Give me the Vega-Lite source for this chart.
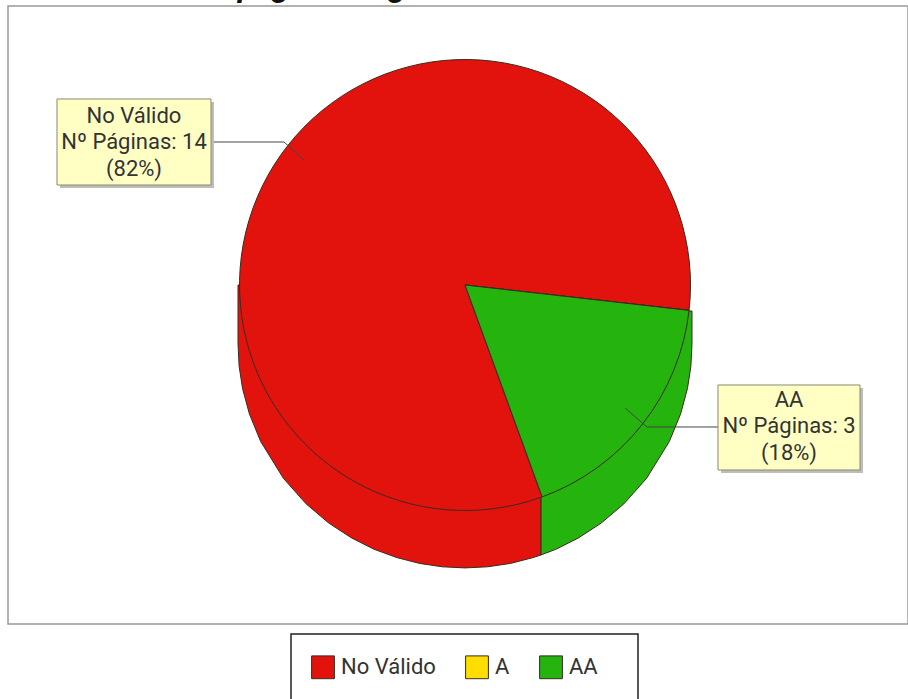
{
"$schema":"https://vega.github.io/schema/vega-lite/v6.json",
"width":900,"height":618,
"autosize":{"type":"none"},
"padding":{"left":8,"top":6,"right":0,"bottom":75},
"background":"white",
"view":{"stroke":"#999999","strokeWidth":1.5,"fill":"white"},
"config":{"font":"Roboto"},
"datasets":{
"paginas":[
{"categoria":"No Válido","orden":1,"paginas":14,"porcentaje":82},
{"categoria":"A","orden":2,"paginas":0,"porcentaje":0},
{"categoria":"AA","orden":3,"paginas":3,"porcentaje":18}],
"lateral":[
{"categoria":"No Válido","u":-1,"arriba":0,"abajo":-0.263},
{"categoria":"No Válido","u":-0.995,"arriba":0,"abajo":-0.363},
{"categoria":"No Válido","u":-0.98,"arriba":0,"abajo":-0.462},
{"categoria":"No Válido","u":-0.95,"arriba":0,"abajo":-0.575},
{"categoria":"No Válido","u":-0.9,"arriba":0,"abajo":-0.699},
{"categoria":"No Válido","u":-0.8,"arriba":0,"abajo":-0.863},
{"categoria":"No Válido","u":-0.7,"arriba":0,"abajo":-0.977},
{"categoria":"No Válido","u":-0.6,"arriba":0,"abajo":-1.063},
{"categoria":"No Válido","u":-0.5,"arriba":0,"abajo":-1.129},
{"categoria":"No Válido","u":-0.4,"arriba":0,"abajo":-1.18},
{"categoria":"No Válido","u":-0.3,"arriba":0,"abajo":-1.217},
{"categoria":"No Válido","u":-0.2,"arriba":0,"abajo":-1.243},
{"categoria":"No Válido","u":-0.1,"arriba":0,"abajo":-1.258},
{"categoria":"No Válido","u":0,"arriba":0,"abajo":-1.263},
{"categoria":"No Válido","u":0.1,"arriba":0,"abajo":-1.258},
{"categoria":"No Válido","u":0.2,"arriba":0,"abajo":-1.243},
{"categoria":"No Válido","u":0.3,"arriba":0,"abajo":-1.217},
{"categoria":"No Válido","u":0.335,"arriba":0,"abajo":-1.205},
{"categoria":"AA","u":0.335,"arriba":-0.116,"abajo":-1.205},
{"categoria":"AA","u":0.4,"arriba":-0.116,"abajo":-1.18},
{"categoria":"AA","u":0.5,"arriba":-0.116,"abajo":-1.129},
{"categoria":"AA","u":0.6,"arriba":-0.116,"abajo":-1.063},
{"categoria":"AA","u":0.7,"arriba":-0.116,"abajo":-0.977},
{"categoria":"AA","u":0.8,"arriba":-0.116,"abajo":-0.863},
{"categoria":"AA","u":0.9,"arriba":-0.116,"abajo":-0.699},
{"categoria":"AA","u":0.95,"arriba":-0.116,"abajo":-0.575},
{"categoria":"AA","u":0.98,"arriba":-0.116,"abajo":-0.462},
{"categoria":"AA","u":0.995,"arriba":-0.116,"abajo":-0.363},
{"categoria":"AA","u":1,"arriba":-0.116,"abajo":-0.263}],
"guias":[
{"categoria":"No Válido","paso":1,"u":-1.1189,"v":0.6384},
{"categoria":"No Válido","paso":2,"u":-0.7974,"v":0.6384},
{"categoria":"No Válido","paso":3,"u":-0.7093,"v":0.558},
{"categoria":"AA","paso":1,"u":1.1145,"v":-0.6339},
{"categoria":"AA","paso":2,"u":0.8018,"v":-0.6339},
{"categoria":"AA","paso":3,"u":0.7048,"v":-0.5491}],
"cajas":[
{"categoria":"No Válido","u1":-1.7974,"u2":-1.1189,"v1":0.8304,"v2":0.4464},
{"categoria":"AA","u1":1.1145,"u2":1.7401,"v1":-0.4464,"v2":-0.8259}],
"sombras":[
{"categoria":"No Válido","u1":-1.7842,"u2":-1.1057,"v1":0.817,"v2":0.433},
{"categoria":"AA","u1":1.1277,"u2":1.7533,"v1":-0.4598,"v2":-0.8393}],
"marco":[{"u1":-0.7665,"u2":0.7621,"v1":-1.558,"v2":-1.9}],
"titulo":[{"texto":"páginas según","u":-1.0,"v":1.2857}],
"textos":[
{"texto":"No Válido","u":-1.4581,"v":0.7545},
{"texto":"Nº Páginas: 14","u":-1.4581,"v":0.6384},
{"texto":"(82%)","u":-1.4581,"v":0.5179},
{"texto":"AA","u":1.4273,"v":-0.5134},
{"texto":"Nº Páginas: 3","u":1.4273,"v":-0.6295},
{"texto":"(18%)","u":1.4273,"v":-0.75}]
},
"layer":[
{"data":{"name":"lateral"},
 "mark":{"type":"area","stroke":"#3a2a20","strokeWidth":1,"interpolate":"linear"},
 "encoding":{
  "x":{"field":"u","type":"quantitative","scale":{"domain":[-2.0132,1.9515],"nice":false,"zero":false},"axis":null},
  "y":{"field":"arriba","type":"quantitative","scale":{"domain":[-1.5134,1.2455],"nice":false,"zero":false},"axis":null},
  "y2":{"field":"abajo"},
  "color":{"field":"categoria","type":"nominal","scale":{"domain":["No Válido","A","AA"],"range":["#E2130D","#FFDD00","#25B40E"]},
   "legend":{"title":null,"orient":"none","legendX":283,"legendY":629,"direction":"horizontal","columns":3,"symbolType":"square","symbolSize":520,"symbolStrokeColor":"#777777","symbolStrokeWidth":1,"symbolOpacity":1,"labelFont":"Roboto","labelFontSize":22,"labelColor":"#333333","labelOffset":6,"columnPadding":27,"padding":20}},
  "detail":{"field":"categoria"}
 }},
{"data":{"name":"paginas"},
 "mark":{"type":"arc","radius":225.5,"stroke":"#3a2a20","strokeWidth":1},
 "encoding":{
  "x":{"datum":0,"type":"quantitative"},
  "y":{"datum":0,"type":"quantitative"},
  "theta":{"field":"paginas","type":"quantitative","stack":true,"scale":{"range":[2.7925,9.0757]}},
  "order":{"field":"orden","type":"ordinal"},
  "color":{"field":"categoria","type":"nominal"}
 }},
{"data":{"name":"guias"},
 "mark":{"type":"line","color":"#444444","strokeWidth":1},
 "encoding":{
  "x":{"field":"u","type":"quantitative"},
  "y":{"field":"v","type":"quantitative"},
  "detail":{"field":"categoria"},
  "order":{"field":"paso","type":"ordinal"}
 }},
{"data":{"name":"sombras"},
 "mark":{"type":"rect","color":"#bdbdbd"},
 "encoding":{
  "x":{"field":"u1","type":"quantitative"},"x2":{"field":"u2"},
  "y":{"field":"v1","type":"quantitative"},"y2":{"field":"v2"}
 }},
{"data":{"name":"cajas"},
 "mark":{"type":"rect","fill":"#FFFFC4","stroke":"#8a8a70","strokeWidth":1},
 "encoding":{
  "x":{"field":"u1","type":"quantitative"},"x2":{"field":"u2"},
  "y":{"field":"v1","type":"quantitative"},"y2":{"field":"v2"}
 }},
{"data":{"name":"marco"},
 "mark":{"type":"rect","fill":null,"stroke":"#222222","strokeWidth":1.5},
 "encoding":{
  "x":{"field":"u1","type":"quantitative"},"x2":{"field":"u2"},
  "y":{"field":"v1","type":"quantitative"},"y2":{"field":"v2"}
 }},
{"data":{"name":"titulo"},
 "mark":{"type":"text","font":"Roboto","fontSize":32,"fontWeight":"bold","fontStyle":"italic","color":"#111111","align":"left","baseline":"alphabetic"},
 "encoding":{
  "x":{"field":"u","type":"quantitative"},
  "y":{"field":"v","type":"quantitative"},
  "text":{"field":"texto"}
 }},
{"data":{"name":"textos"},
 "mark":{"type":"text","font":"Roboto","fontSize":22,"color":"#333333","align":"center","baseline":"middle"},
 "encoding":{
  "x":{"field":"u","type":"quantitative"},
  "y":{"field":"v","type":"quantitative"},
  "text":{"field":"texto"}
 }}
]
}
